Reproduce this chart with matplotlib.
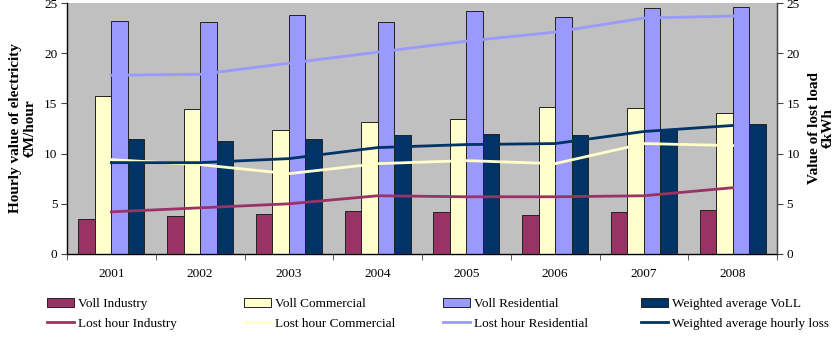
import numpy as np
import matplotlib
matplotlib.use('Agg')
import matplotlib.pyplot as plt
from matplotlib.patches import Patch
from matplotlib.lines import Line2D

plt.rcParams['font.family'] = ['Liberation Serif', 'DejaVu Serif']

years = ['2001', '2002', '2003', '2004', '2005', '2006', '2007', '2008']

# bars (left axis, M€/hour)
voll_industry = [3.5, 3.8, 4.0, 4.3, 4.2, 3.9, 4.2, 4.4]
voll_commercial = [15.7, 14.4, 12.4, 13.1, 13.4, 14.6, 14.5, 14.0]
voll_residential = [23.2, 23.1, 23.8, 23.1, 24.2, 23.6, 24.5, 24.6]
voll_weighted = [11.5, 11.3, 11.5, 11.9, 12.0, 11.9, 12.5, 12.9]

# lines (right axis, €/kWh)
lost_industry = [4.2, 4.6, 5.0, 5.8, 5.7, 5.7, 5.8, 6.6]
lost_commercial = [9.4, 8.9, 8.0, 9.0, 9.3, 9.0, 11.0, 10.8]
lost_residential = [17.8, 17.9, 19.0, 20.1, 21.2, 22.1, 23.5, 23.7]
lost_weighted = [9.1, 9.1, 9.5, 10.6, 10.9, 11.0, 12.2, 12.8]

c_ind = '#993366'
c_com = '#FFFFCC'
c_res = '#9999FF'
c_wgt = '#003366'

W, H = 836, 338
fig = plt.figure(figsize=(W / 100, H / 100), dpi=100)
ax = fig.add_axes([67 / W, (H - 254) / H, (777 - 67) / W, (254 - 3) / H])
ax.set_facecolor('#C0C0C0')

x = np.arange(len(years))
w = 0.186
bar_sets = [(voll_industry, c_ind), (voll_commercial, c_com),
            (voll_residential, c_res), (voll_weighted, c_wgt)]
for i, (vals, col) in enumerate(bar_sets):
    ax.bar(x + (i - 1.5) * w, vals, w, color=col, edgecolor='#222222',
           linewidth=0.7, zorder=2)

ax.set_xlim(-0.5, len(years) - 0.5)
ax.set_ylim(0, 25)
ax.set_yticks([0, 5, 10, 15, 20, 25])
ax.set_xticks(x)
ax.set_xticklabels(years)
ax.set_xticks(np.arange(-0.5, len(years)), minor=True)
ax.tick_params(axis='x', which='major', length=0, pad=10, labelsize=9.5)
ax.tick_params(axis='x', which='minor', length=4, direction='out', color='#444444')
ax.tick_params(axis='y', length=4, direction='out', labelsize=9.5, pad=3, color='#444444')
ax.spines['top'].set_visible(False)
for s in ['left', 'right', 'bottom']:
    ax.spines[s].set_color('#444444')
    ax.spines[s].set_linewidth(1.0)

ax2 = ax.twinx()
ax2.set_ylim(0, 25)
ax2.set_yticks([0, 5, 10, 15, 20, 25])
ax2.tick_params(axis='y', length=4, direction='out', labelsize=9.5, pad=3, color='#444444')
ax2.spines['top'].set_visible(False)
ax2.spines['right'].set_color('#444444')
line_sets = [(lost_industry, c_ind), (lost_commercial, c_com),
             (lost_residential, c_res), (lost_weighted, c_wgt)]
for vals, col in line_sets:
    ax2.plot(x, vals, color=col, linewidth=2.0, zorder=3)

fig.text(23 / W, (H - 128) / H, 'Hourly value of electricity\n€M/hour',
         rotation=90, ha='center', va='center', fontsize=11,
         fontweight='bold', linespacing=1.1)
fig.text(821 / W, (H - 128) / H, 'Value of lost load\n€kWh',
         rotation=90, ha='center', va='center', fontsize=11,
         fontweight='bold', linespacing=1.1)

names_bar = ['Voll Industry', 'Voll Commercial', 'Voll Residential', 'Weighted average VoLL']
names_line = ['Lost hour Industry', 'Lost hour Commercial', 'Lost hour Residential',
              'Weighted average hourly loss']
cols = [c_ind, c_com, c_res, c_wgt]
col_x = [47, 244, 443, 641]
for i in range(4):
    handles = [Patch(facecolor=cols[i], edgecolor='#222222', linewidth=0.7),
               Line2D([0], [0], color=cols[i], linewidth=2.0)]
    fig.legend(handles, [names_bar[i], names_line[i]],
               loc='upper left', bbox_to_anchor=(col_x[i] / W, (H - 298) / H),
               frameon=False, fontsize=9.5, handlelength=2.05, handleheight=0.65,
               handletextpad=0.3, labelspacing=0.6, borderpad=0, borderaxespad=0)

fig.savefig('out.png', dpi=100)
